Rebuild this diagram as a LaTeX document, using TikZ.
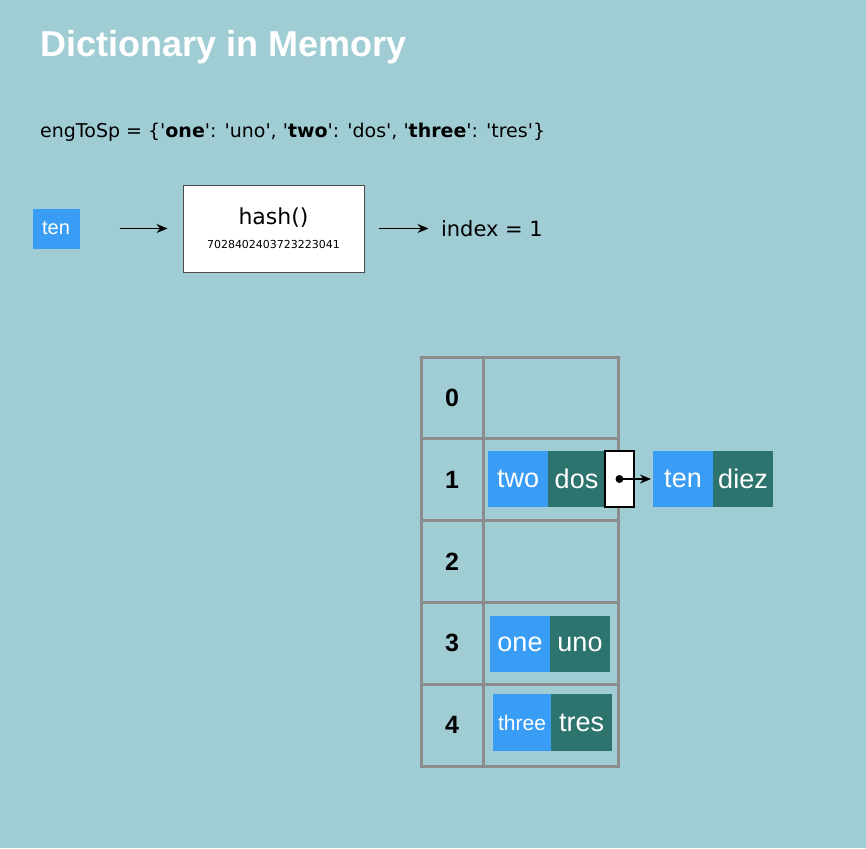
\documentclass[tikz,border=0pt]{standalone}
\usepackage{fontspec}
\setmainfont{Liberation Sans}
\newfontfamily\lucida{DejaVu Sans}
\usetikzlibrary{arrows.meta,positioning}
\definecolor{slide}{RGB}{160,205,212}
\definecolor{keyblue}{RGB}{58,157,245}
\definecolor{valteal}{RGB}{45,115,110}
\definecolor{gridgray}{RGB}{140,140,140}
\newcommand\fs[1]{\fontsize{#1}{#1}\selectfont}
\tikzset{
  keybox/.style={fill=keyblue, text=white, minimum width=60pt, minimum height=56pt,
    inner sep=0pt, outer sep=0pt, font=\fs{27}},
  valbox/.style={fill=valteal, text=white, minimum width=60pt, minimum height=56pt,
    inner sep=0pt, outer sep=0pt, font=\fs{27}},
  cell/.style={draw=gridgray, line width=3pt, minimum height=81.8pt, inner sep=0pt, outer sep=0pt},
  flow/.style={-{Stealth[length=11pt,width=9pt]}, line width=1.8pt},
}

\begin{document}
\begin{tikzpicture}[x=1pt,y=-1pt]
  \fill[slide] (0,0) rectangle (866,848);
  \useasboundingbox (0,0) rectangle (866,848);

  \node[anchor=base west, inner sep=0pt, text=white, font=\fs{36}\bfseries] (title) at (40,57) {Dictionary in Memory};
  \node[anchor=base west, inner sep=0pt, font=\lucida\fs{19}] (dict) at (40,137)
    {engToSp = \{'\textbf{one}': 'uno', '\textbf{two}': 'dos', '\textbf{three}': 'tres'\}};

  % hashing
  \node[draw=black!70, fill=white, line width=1pt, minimum width=181pt, minimum height=87pt] (hash) at (273.5,228.5) {};
  \node[font=\lucida\fs{22}] (hashname) at (273.5,218) {hash()};
  \node[font=\lucida\fs{11}] (hashval) at (273.5,244) {7028402403723223041};
  \node[keybox, minimum width=47pt, minimum height=40pt, font=\fs{20}, left=103pt of hash] (tenin) {ten};
  \node[font=\lucida\fs{21}, right=73pt of hash] (index) {index = 1};
  \draw[flow, shorten <=40pt, shorten >=15pt] (tenin) -- (hash);
  \draw[flow, shorten <=14pt, shorten >=9pt] (hash) -- (index);

  % table
  \foreach \i in {0,...,4} {
    \pgfmathsetmacro\y{397.9+81.8*\i}
    \node[cell, minimum width=62pt, font=\fs{25}\bfseries] (idx\i) at (452,\y) {\i};
    \node[cell, minimum width=135pt, right=0pt of idx\i] (slot\i) {};
  }

  % row 1 with chain
  \node[keybox] (two) at (518,479) {two};
  \node[valbox, minimum width=57pt, right=0pt of two] (dos) {dos};
  \node[draw=black, line width=1.5pt, fill=white, minimum width=29pt, minimum height=56pt,
    inner sep=0pt, outer sep=0pt, right=0pt of dos] (ptr) {};
  \node[circle, fill=black, inner sep=0pt, minimum size=8pt] (dot) at (ptr.center) {};
  \node[keybox, right=19pt of ptr] (ten) {ten};
  \node[valbox, right=0pt of ten] (diez) {diez};
  \draw[flow, shorten >=2pt] (dot.center) -- (ten.west);

  % row 3
  \node[keybox] (one) at (520,644) {one};
  \node[valbox, right=0pt of one] (uno) {uno};

  % row 4
  \node[keybox, minimum width=58pt, minimum height=57pt, font=\fs{21}] (three) at (522,722.5) {three};
  \node[valbox, minimum width=61pt, minimum height=57pt, right=0pt of three] (tres) {tres};
\end{tikzpicture}
\end{document}
